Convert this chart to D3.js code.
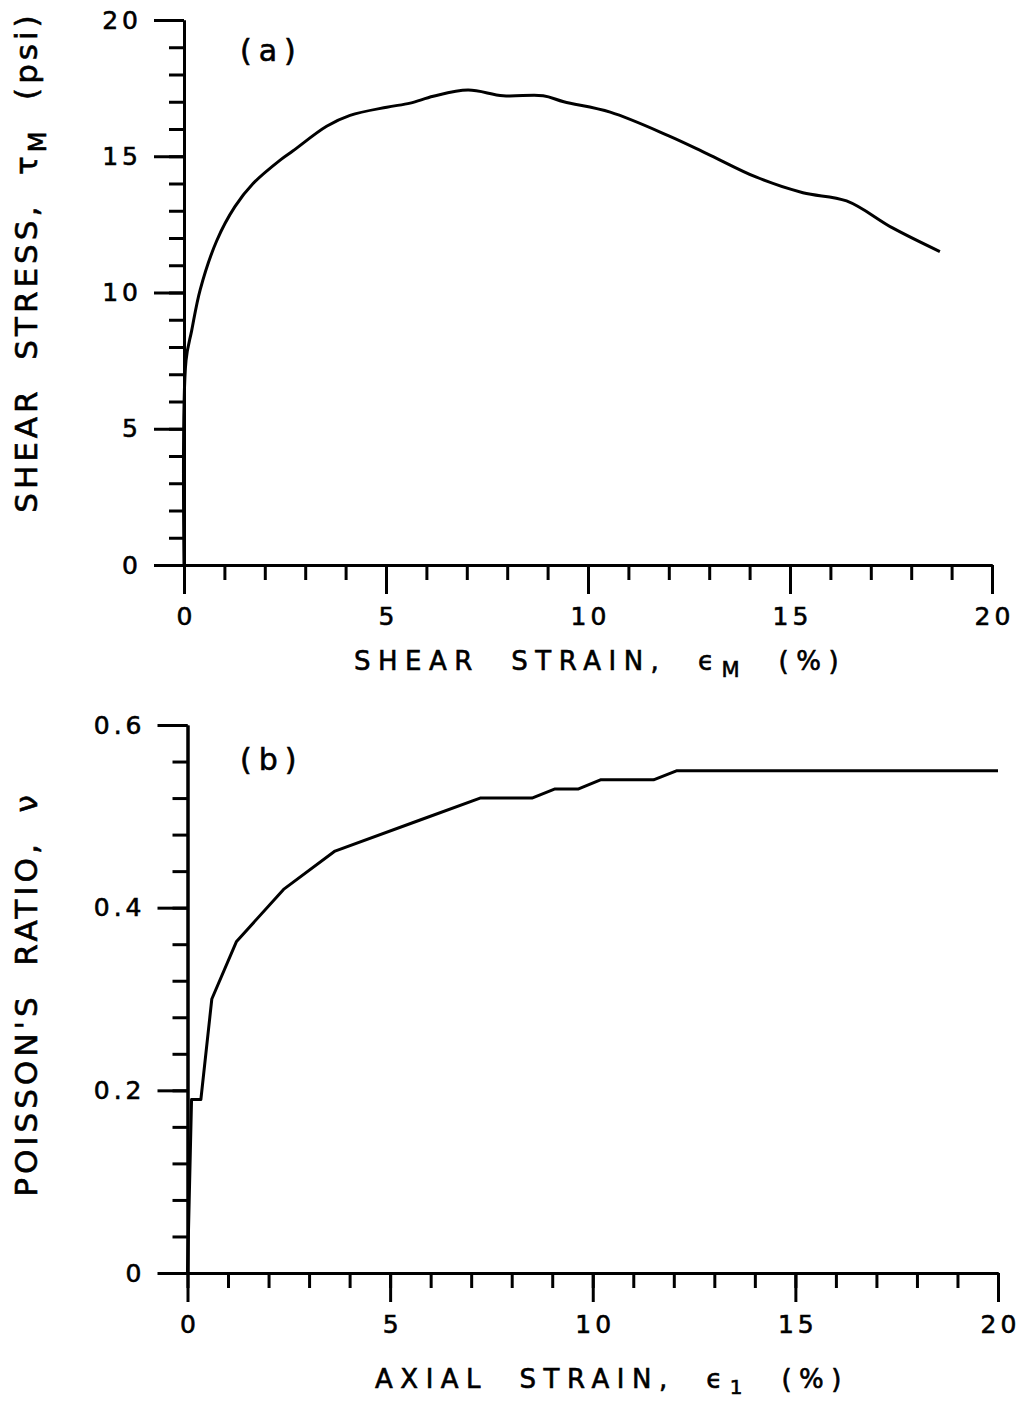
<!DOCTYPE html>
<html>
<head>
<meta charset="utf-8">
<script src="https://cdn.jsdelivr.net/npm/d3@7"></script>
<style>
body { margin: 0; background: #fff; }
text { font-family: "DejaVu Sans", sans-serif; fill: #000; stroke: #000; stroke-width: 0.6px; white-space: pre; }
</style>
</head>
<body>
<div id="canvas"></div>
<script>
// ----------------------------------------------------------
// DATA -----------------------------------------------------
// ----------------------------------------------------------
// (a) shear strain (%) vs shear stress (psi)
var shear_strain = [0, 0.05, 0.19, 0.4, 0.81, 1.26, 1.71, 2.38, 2.7, 3.53, 4.11, 5.02, 5.6, 6.17, 7.03, 7.9, 8.89, 9.4, 10.55, 12.0, 12.94, 14.17, 15.32, 16.4, 17.55, 18.71];
var shear_stress = [0, 7.5, 8.6, 10.1, 11.9, 13.15, 14.0, 14.86, 15.2, 16.1, 16.5, 16.8, 16.95, 17.2, 17.43, 17.22, 17.22, 17.0, 16.62, 15.75, 15.1, 14.23, 13.66, 13.36, 12.36, 11.5];

// (b) axial strain (%) vs poisson's ratio
var axial_strain = [0, 0.1, 0.33, 0.6, 1.21, 2.37, 3.64, 5.74, 7.22, 8.5, 9.07, 9.65, 10.19, 11.5, 12.08, 20.0];
var poisson_ratio = [0, 0.19, 0.19, 0.30, 0.363, 0.42, 0.462, 0.496, 0.52, 0.52, 0.53, 0.53, 0.54, 0.54, 0.55, 0.55];

// ticks
var strain_major = [0, 5, 10, 15, 20];
var strain_minor = d3.range(0, 21, 1);
var stress_major = [0, 5, 10, 15, 20];
var stress_labels = ["0", "5", "10", "15", "20"];
var stress_minor = d3.range(0, 21, 1);
var ratio_major = [0, 0.2, 0.4, 0.6];
var ratio_labels = ["0", "0.2", "0.4", "0.6"];
var ratio_minor = d3.range(0, 16).map(function(i) { return i * 0.04; });

// ----------------------------------------------------------
// STRUCTURE ------------------------------------------------
// ----------------------------------------------------------
var svg = d3.select("#canvas").append("svg")
  .attr("width", 1021)
  .attr("height", 1403)
  .style("background-color", "#fff");

var xA = d3.scaleLinear().domain([0, 20]).range([184, 992]);
var yA = d3.scaleLinear().domain([0, 20]).range([565, 20]);
var xB = d3.scaleLinear().domain([0, 20]).range([187.5, 998]);
var yB = d3.scaleLinear().domain([0, 0.6]).range([1273, 725]);

// ----------------------------------------------------------
// AXES -----------------------------------------------------
// ----------------------------------------------------------
function styleAxis(g) {
  g.selectAll("path, line").attr("stroke", "#000").attr("stroke-width", 3);
  g.selectAll("text")
    .style("font-size", "25px")
    .style("letter-spacing", "4px")
    .attr("fill", "#000");
}

function drawAxes(xs, ys, yTicks, yMinor, yLabels) {
  // x minor ticks
  svg.append("g")
    .attr("transform", "translate(0," + ys(0) + ")")
    .call(d3.axisBottom(xs).tickValues(strain_minor).tickSize(15).tickSizeOuter(0).tickFormat(""))
    .call(styleAxis);
  // x major ticks + labels
  svg.append("g")
    .attr("transform", "translate(0," + ys(0) + ")")
    .call(d3.axisBottom(xs).tickValues(strain_major).tickSize(29).tickSizeOuter(0).tickPadding(13))
    .call(styleAxis)
    .call(function(g) { g.selectAll("text").attr("dx", "2px"); });
  // y minor ticks
  svg.append("g")
    .attr("transform", "translate(" + xs(0) + ",0)")
    .call(d3.axisLeft(ys).tickValues(yMinor).tickSize(15).tickSizeOuter(0).tickFormat(""))
    .call(styleAxis);
  // y major ticks + labels
  svg.append("g")
    .attr("transform", "translate(" + xs(0) + ",0)")
    .call(d3.axisLeft(ys).tickValues(yTicks).tickSize(30).tickSizeOuter(0).tickPadding(12)
      .tickFormat(function(d, i) { return yLabels[i]; }))
    .call(styleAxis);
}

drawAxes(xA, yA, stress_major, stress_minor, stress_labels);
drawAxes(xB, yB, ratio_major, ratio_minor, ratio_labels);

// ----------------------------------------------------------
// CURVES ---------------------------------------------------
// ----------------------------------------------------------
var lineA = d3.line()
  .x(function(d) { return xA(d[0]); })
  .y(function(d) { return yA(d[1]); })
  .curve(d3.curveCatmullRom.alpha(0.5));

svg.append("path")
  .datum(d3.zip(shear_strain, shear_stress))
  .attr("d", lineA)
  .attr("fill", "none")
  .attr("stroke", "#000")
  .attr("stroke-width", 3)
  .attr("stroke-linejoin", "round");

var lineB = d3.line()
  .x(function(d) { return xB(d[0]); })
  .y(function(d) { return yB(d[1]); });

svg.append("path")
  .datum(d3.zip(axial_strain, poisson_ratio))
  .attr("d", lineB)
  .attr("fill", "none")
  .attr("stroke", "#000")
  .attr("stroke-width", 3)
  .attr("stroke-linejoin", "round");

// ----------------------------------------------------------
// TEXT -----------------------------------------------------
// ----------------------------------------------------------
// panel tags
svg.append("text").attr("x", 240).attr("y", 61)
  .style("font-size", "30px").style("letter-spacing", "7px").text("(a)");
svg.append("text").attr("x", 240).attr("y", 770)
  .style("font-size", "30px").style("letter-spacing", "7px").text("(b)");

// x titles
var xtA = svg.append("text").attr("x", 600).attr("y", 670)
  .attr("text-anchor", "middle")
  .style("font-size", "26px").style("letter-spacing", "7.5px");
xtA.append("tspan").text("SHEAR  STRAIN,  \u03F5");
xtA.append("tspan").attr("dy", 7).style("font-size", "21px").text("M");
xtA.append("tspan").attr("dy", -7).text("  (%)");

var xtB = svg.append("text").attr("x", 612).attr("y", 1388)
  .attr("text-anchor", "middle")
  .style("font-size", "26px").style("letter-spacing", "7.5px");
xtB.append("tspan").text("AXIAL  STRAIN,  \u03F5");
xtB.append("tspan").attr("dy", 6).style("font-size", "20px").text("1");
xtB.append("tspan").attr("dy", -6).text("  (%)");

// y titles
var ytA = svg.append("text")
  .attr("transform", "translate(37,262) rotate(-90)")
  .attr("text-anchor", "middle")
  .style("font-size", "31px").style("letter-spacing", "4px");
ytA.append("tspan").text("SHEAR  STRESS,  \u03C4");
ytA.append("tspan").attr("dy", 9).style("font-size", "24px").text("M");
ytA.append("tspan").attr("dy", -9).text("  (psi)");

svg.append("text")
  .attr("transform", "translate(37,994) rotate(-90)")
  .attr("text-anchor", "middle")
  .style("font-size", "31px").style("letter-spacing", "4px")
  .text("POISSON'S  RATIO,  \u03BD");
</script>
</body>
</html>
